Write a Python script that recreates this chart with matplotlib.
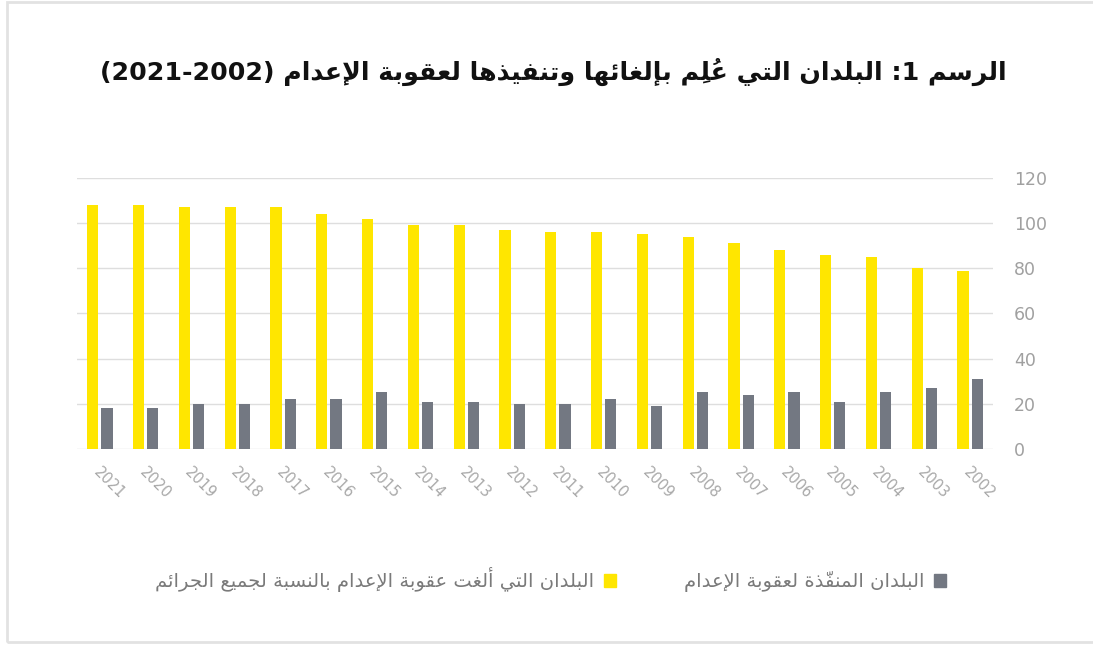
import re
import matplotlib
matplotlib.use('Agg')
import matplotlib.pyplot as plt
import matplotlib.transforms as mtransforms
from matplotlib.patches import Patch, Rectangle

years = ['2021', '2020', '2019', '2018', '2017', '2016', '2015', '2014', '2013', '2012',
         '2011', '2010', '2009', '2008', '2007', '2006', '2005', '2004', '2003', '2002']
abolished = [108, 108, 107, 107, 107, 104, 102, 99, 99, 97, 96, 96, 95, 94, 91, 88, 86, 85, 80, 79]
executing = [18, 18, 20, 20, 22, 22, 25, 21, 21, 20, 20, 22, 19, 25, 24, 25, 21, 25, 27, 31]

title = 'الرسم 1: البلدان التي عُلِم بإلغائها وتنفيذها لعقوبة الإعدام (2021-2002)'
label_abolished = 'البلدان التي ألغت عقوبة الإعدام بالنسبة لجميع الجرائم'
label_executing = 'البلدان المنفّذة لعقوبة الإعدام'

# --- tiny arabic shaper (matplotlib has no complex text layout) ---
# letter -> (first presentation form, number of forms)
forms = {
    '\u0621': (0xFE80, 1), '\u0622': (0xFE81, 2), '\u0623': (0xFE83, 2), '\u0624': (0xFE85, 2),
    '\u0625': (0xFE87, 2), '\u0626': (0xFE89, 4), '\u0627': (0xFE8D, 2), '\u0628': (0xFE8F, 4),
    '\u0629': (0xFE93, 2), '\u062A': (0xFE95, 4), '\u062B': (0xFE99, 4), '\u062C': (0xFE9D, 4),
    '\u062D': (0xFEA1, 4), '\u062E': (0xFEA5, 4), '\u062F': (0xFEA9, 2), '\u0630': (0xFEAB, 2),
    '\u0631': (0xFEAD, 2), '\u0632': (0xFEAF, 2), '\u0633': (0xFEB1, 4), '\u0634': (0xFEB5, 4),
    '\u0635': (0xFEB9, 4), '\u0636': (0xFEBD, 4), '\u0637': (0xFEC1, 4), '\u0638': (0xFEC5, 4),
    '\u0639': (0xFEC9, 4), '\u063A': (0xFECD, 4), '\u0641': (0xFED1, 4), '\u0642': (0xFED5, 4),
    '\u0643': (0xFED9, 4), '\u0644': (0xFEDD, 4), '\u0645': (0xFEE1, 4), '\u0646': (0xFEE5, 4),
    '\u0647': (0xFEE9, 4), '\u0648': (0xFEED, 2), '\u0649': (0xFEEF, 2), '\u064A': (0xFEF1, 4),
}
lamalef = {'\u0622': 0xFEF5, '\u0623': 0xFEF7, '\u0625': 0xFEF9, '\u0627': 0xFEFB}
marks = set('\u064B\u064C\u064D\u064E\u064F\u0650\u0651\u0652')


def shape(s):
    # clusters: [base, marks]
    cl = []
    for ch in s:
        if ch in marks and cl:
            cl[-1][1] += ch
        else:
            cl.append([ch, ''])
    # lam-alef
    out = []
    i = 0
    while i < len(cl):
        if cl[i][0] == '\u0644' and i + 1 < len(cl) and cl[i + 1][0] in lamalef:
            out.append(['LA' + cl[i + 1][0], cl[i][1] + cl[i + 1][1]])
            i += 2
        else:
            out.append(cl[i])
            i += 1

    def jtype(b):
        if b.startswith('LA'):
            return 2
        if b in forms:
            return forms[b][1]
        return 0

    res = []
    for i, (b, m) in enumerate(out):
        prev_j = i > 0 and jtype(out[i - 1][0]) == 4
        t = jtype(b)
        if t == 0:
            res.append([b, m])
            continue
        next_j = t == 4 and i + 1 < len(out) and jtype(out[i + 1][0]) > 1
        if b.startswith('LA'):
            g = chr(lamalef[b[2]] + (1 if prev_j else 0))
        else:
            start, n = forms[b]
            if n == 1:
                idx = 0
            elif n == 2:
                idx = 1 if prev_j else 0
            else:
                idx = {(False, False): 0, (True, False): 1, (False, True): 2, (True, True): 3}[(prev_j, next_j)]
            g = chr(start + idx)
        res.append([g, m])
    return res


def ar(s):
    cl = shape(s)
    text = ''.join(b for b, m in cl)
    # split into digit runs (kept LTR) and the rest (reversed)
    tokens = []
    pos = 0
    for mt in re.finditer(r'[0-9]+([\-.,/][0-9]+)*', text):
        if mt.start() > pos:
            tokens.append(('r', pos, mt.start()))
        tokens.append(('n', mt.start(), mt.end()))
        pos = mt.end()
    if pos < len(text):
        tokens.append(('r', pos, len(text)))
    mirror = {'(': ')', ')': '(', '[': ']', ']': '['}
    vis = []
    for kind, a, b in reversed(tokens):
        part = cl[a:b]
        if kind == 'n':
            vis.append(''.join(x + y for x, y in part))
        else:
            # marks go in front of their base so they land on top of it
            vis.append(''.join(y + mirror.get(x, x) for x, y in reversed(part)))
    return ''.join(vis)


plt.rcParams['font.family'] = ['DejaVu Sans']

fig = plt.figure(figsize=(10.93, 6.45), dpi=100)
ax = fig.add_axes([0.0705, 0.304, 0.838, 0.420])

x = list(range(len(years)))
bw = 0.245
ax.bar([i - 0.155 for i in x], abolished, width=bw, color='#FFE600', zorder=3)
ax.bar([i + 0.155 for i in x], executing, width=bw, color='#737882', zorder=3)

ax.set_xlim(-0.5, len(years) - 0.5)
ax.set_ylim(0, 120)
ax.set_yticks(range(0, 121, 20))
ax.yaxis.tick_right()
ax.tick_params(axis='y', length=0, pad=15, labelsize=12.5, labelcolor='#a0a0a0')
ax.grid(axis='y', color='#dedede', lw=1, zorder=0)
for sp in ax.spines.values():
    sp.set_visible(False)

ax.set_xticks(x)
ax.set_xticklabels(years, rotation=-45, ha='left', va='center', rotation_mode='anchor',
                   fontsize=10.5, color='#a8a8a8')
ax.tick_params(axis='x', length=0, pad=15)
shift = mtransforms.ScaledTranslation(-3 / 72, 0, fig.dpi_scale_trans)
for lab in ax.get_xticklabels():
    lab.set_transform(lab.get_transform() + shift)

fig.text(0.506, 0.888, ar(title), ha='center', va='center', fontsize=18.2,
         fontweight='bold', color='#111111')

handles = [Patch(color='#FFE600', label=ar(label_abolished)),
           Patch(color='#737882', label=ar(label_executing))]
leg = fig.legend(handles=handles, loc='center', bbox_to_anchor=(0.504, 0.101), ncol=2,
                 frameon=False, markerfirst=False, handlelength=0.62, handleheight=0.62,
                 handletextpad=0.5, columnspacing=3.5, fontsize=14)
for t in leg.get_texts():
    t.set_color('#7a7a7a')

fig.patches.append(Rectangle((0.0064, 0.004), 1.2, 0.993, transform=fig.transFigure,
                             fill=False, edgecolor='#e2e2e2', lw=2))

fig.savefig('out.png', dpi=100)
